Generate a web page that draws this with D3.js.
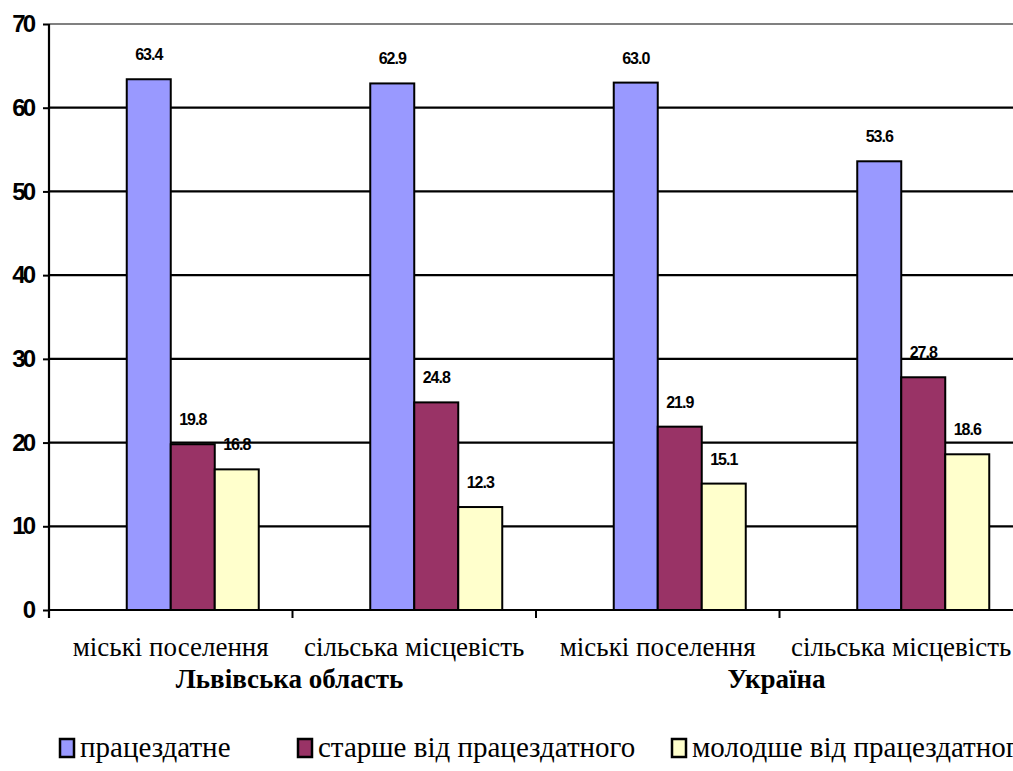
<!DOCTYPE html>
<html>
<head>
<meta charset="utf-8">
<script src="https://cdn.jsdelivr.net/npm/d3@7"></script>
<style>
  html, body { margin: 0; padding: 0; background: #fff; }
  svg { display: block; }
</style>
</head>
<body>
<svg id="chart" width="1013" height="771"></svg>
<script>
// ---- data ----
const categories = ["міські поселення", "сільська місцевість", "міські поселення", "сільська місцевість"];
const groups = ["Львівська область", "Україна"];
const series = ["працездатне", "старше від працездатного", "молодше від працездатного"];
const able = [63.4, 62.9, 63.0, 53.6];
const older = [19.8, 24.8, 21.9, 27.8];
const younger = [16.8, 12.3, 15.1, 18.6];
const yTicks = [0, 10, 20, 30, 40, 50, 60, 70];

// ---- styles / layout ----
const SERIF = "Liberation Serif";
const SANS = "Liberation Sans";
const colors = ["#9999FF", "#993366", "#FFFFCC"];
const values = [able, older, younger];
const svg = d3.select("#chart");
const pLeft = 49, pRight = 1023, pTop = 24, pBottom = 610;

const x0 = d3.scaleBand().domain(d3.range(categories.length)).range([pLeft, pRight]).padding(0);
// Excel reserves a leading empty slot in each cluster
const slots = ["_", ...series];
const x1 = d3.scaleBand().domain(slots).range([0, x0.bandwidth()]).paddingInner(0).paddingOuter(0.767);
const y = d3.scaleLinear().domain([0, 70]).range([pBottom, pTop]);

// gridlines
svg.append("g").selectAll("line").data(yTicks.filter(d => d > 0)).join("line")
  .attr("x1", pLeft).attr("x2", pRight)
  .attr("y1", d => y(d)).attr("y2", d => y(d))
  .attr("stroke", d => d === 70 ? "#808080" : "#000")
  .attr("stroke-width", 2.2);

// bars
const barData = [];
categories.forEach((c, i) => series.forEach((s, j) => barData.push({ i, s, j, v: values[j][i] })));
svg.append("g").selectAll("rect").data(barData).join("rect")
  .attr("x", d => x0(d.i) + x1(d.s))
  .attr("y", d => y(d.v))
  .attr("width", x1.bandwidth())
  .attr("height", d => y(0) - y(d.v))
  .attr("fill", d => colors[d.j])
  .attr("stroke", "#000").attr("stroke-width", 2);

// value labels
svg.append("g").selectAll("text").data(barData).join("text")
  .attr("x", d => x0(d.i) + x1(d.s) + x1.bandwidth() / 2)
  .attr("y", d => y(d.v) - 19)
  .attr("text-anchor", "middle")
  .style("font-family", SANS).style("font-weight", "bold").style("font-size", "16px")
  .style("letter-spacing", "-1px")
  .text(d => d.v.toFixed(1));

// y axis
const yAxis = d3.axisLeft(y).tickValues(yTicks).tickSize(6).tickPadding(10).tickFormat(d3.format("d"));
const gy = svg.append("g").attr("transform", `translate(${pLeft},0)`).call(yAxis);
gy.select(".domain").remove();
gy.attr("font-family", null).attr("font-size", null);
gy.selectAll(".tick line").attr("stroke", "#000").attr("stroke-width", 2);
gy.selectAll(".tick text").attr("fill", "#000")
  .style("font-family", SANS).style("font-weight", "bold").style("font-size", "24px")
  .style("letter-spacing", "-3px");
svg.append("line").attr("x1", pLeft).attr("x2", pLeft).attr("y1", pTop).attr("y2", pBottom + 8)
  .attr("stroke", "#000").attr("stroke-width", 2.2);

// x axis line and boundary ticks
svg.append("line").attr("x1", pLeft).attr("x2", pRight).attr("y1", pBottom).attr("y2", pBottom)
  .attr("stroke", "#000").attr("stroke-width", 2.2);
svg.append("g").selectAll("line").data(d3.range(1, categories.length + 1)).join("line")
  .attr("x1", d => pLeft + d * x0.bandwidth()).attr("x2", d => pLeft + d * x0.bandwidth())
  .attr("y1", pBottom).attr("y2", pBottom + 8)
  .attr("stroke", "#000").attr("stroke-width", 2);

// category labels
svg.append("g").selectAll("text").data(categories).join("text")
  .attr("x", (d, i) => x0(i) + x0.bandwidth() / 2)
  .attr("y", 656)
  .attr("text-anchor", "middle")
  .style("font-family", SERIF).style("font-size", "27px")
  .text(d => d);

// group labels
svg.append("g").selectAll("text").data(groups).join("text")
  .attr("x", (d, i) => x0(i * 2) + x0.bandwidth() - 3)
  .attr("y", 688)
  .attr("text-anchor", "middle")
  .style("font-family", SERIF).style("font-weight", "bold").style("font-size", "27px")
  .text(d => d);

// legend
const legendX = [60, 298, 672];
const lg = svg.append("g").selectAll("g").data(series).join("g")
  .attr("transform", (d, i) => `translate(${legendX[i]},739)`);
lg.append("rect").attr("width", 14).attr("height", 18)
  .attr("fill", (d, i) => colors[i]).attr("stroke", "#000").attr("stroke-width", 2.5);
lg.append("text").attr("x", 20).attr("y", 18)
  .style("font-family", SERIF).style("font-size", "29px")
  .text(d => d);
</script>
</body>
</html>
